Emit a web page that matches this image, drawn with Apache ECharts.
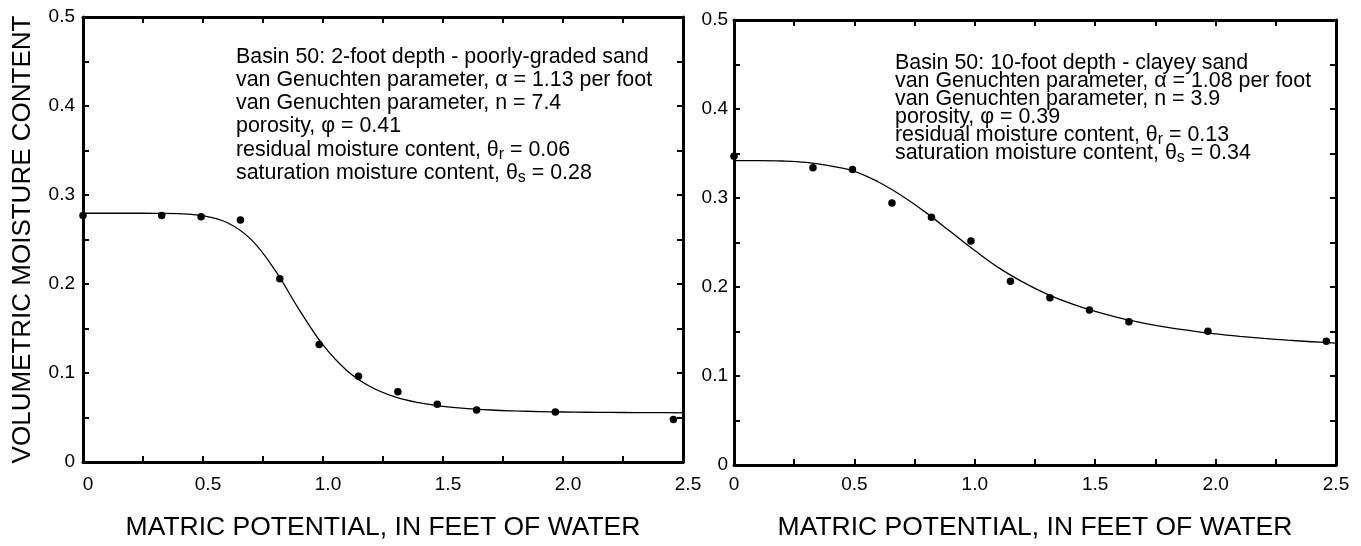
<!DOCTYPE html>
<html>
<head>
<meta charset="utf-8">
<script src="https://cdn.jsdelivr.net/npm/echarts@6/dist/echarts.min.js"></script>
<style>
  html, body { margin: 0; padding: 0; background: #fff; }
  #chart { width: 1361px; height: 546px; }
</style>
</head>
<body>
<div id="chart"></div>
<script>
// Matric potential at which moisture was measured, feet of water
const suction = [0, 0.328, 0.492, 0.656, 0.82, 0.984, 1.148, 1.312, 1.476, 1.64, 1.968, 2.46];

// Measured volumetric moisture content
const moisture2ft  = [0.277, 0.277, 0.2756, 0.272, 0.206, 0.132, 0.0963, 0.0789, 0.065, 0.0585, 0.0563, 0.0478];
const moisture10ft = [0.347, 0.334, 0.332, 0.2944, 0.2784, 0.2517, 0.2066, 0.1878, 0.1742, 0.1609, 0.1502, 0.1391];

// Fitted van Genuchten retention curves, sampled every 0.1 ft
const fitSuction = [0, 0.1, 0.2, 0.3, 0.4, 0.5, 0.6, 0.7, 0.8, 0.9, 1.0, 1.1, 1.2, 1.3, 1.4, 1.5, 1.6, 1.7, 1.8, 1.9, 2.0, 2.1, 2.2, 2.3, 2.4, 2.5];
const fit2ftMoisture = [0.2795, 0.2795, 0.2795, 0.2794, 0.279, 0.2767, 0.2691, 0.2501, 0.2155, 0.1716, 0.1315, 0.1026, 0.0843, 0.0732, 0.0666, 0.0625, 0.0600, 0.0584, 0.0574, 0.0567, 0.0562, 0.0559, 0.0557, 0.0555, 0.0554, 0.0553];
const fit10ftMoisture = [0.342, 0.342, 0.3416, 0.340, 0.3361, 0.330, 0.318, 0.302, 0.283, 0.262, 0.241, 0.2215, 0.2055, 0.192, 0.1812, 0.1725, 0.1653, 0.1595, 0.1547, 0.1508, 0.1474, 0.1446, 0.1422, 0.1402, 0.1385, 0.137];

// Axis tick labels and titles
const xTickLabels = ['0', '0.5', '1.0', '1.5', '2.0', '2.5'];
const yTickLabels = ['0', '0.1', '0.2', '0.3', '0.4', '0.5'];
const yAxisTitle = 'VOLUMETRIC MOISTURE CONTENT';
const xAxisTitle = 'MATRIC POTENTIAL, IN FEET OF WATER';

// Sample descriptions ({sub|..} marks a subscript)
const notes2ft = [
  'Basin 50: 2-foot depth - poorly-graded sand',
  'van Genuchten parameter, \u03B1 = 1.13 per foot',
  'van Genuchten parameter, n = 7.4',
  'porosity, \u03C6 = 0.41',
  'residual moisture content, \u03B8{sub|r} = 0.06',
  'saturation moisture content, \u03B8{sub|s} = 0.28'
];
const notes10ft = [
  'Basin 50: 10-foot depth - clayey sand',
  'van Genuchten parameter, \u03B1 = 1.08 per foot',
  'van Genuchten parameter, n = 3.9',
  'porosity, \u03C6 = 0.39',
  'residual moisture content, \u03B8{sub|r} = 0.13',
  'saturation moisture content, \u03B8{sub|s} = 0.34'
];

const FONT = 'Liberation Sans, Arial, Helvetica, sans-serif';

function pickLabel(labels, step) {
  return function (v) {
    const k = v / step;
    const i = Math.round(k);
    return Math.abs(k - i) < 1e-6 && labels[i] !== undefined ? labels[i] : '';
  };
}

const axisLine = { show: true, onZero: false, lineStyle: { color: '#000', width: 3 } };
const axisTick = { show: true, inside: true, length: 6, lineStyle: { color: '#000', width: 2 } };

function xAxes(gridIndex, labelPad, labelMargin, nameGap) {
  return [
    {
      type: 'value', gridIndex, position: 'bottom', min: 0, max: 2.5, interval: 0.25,
      axisLine, axisTick, splitLine: { show: false },
      axisLabel: {
        show: true, margin: labelMargin, color: '#000', fontSize: 19, fontFamily: FONT,
        padding: [0, 0, 0, labelPad], formatter: pickLabel(xTickLabels, 0.5),
        showMinLabel: true, showMaxLabel: true
      },
      name: xAxisTitle, nameLocation: 'middle', nameGap,
      nameTextStyle: { color: '#000', fontSize: 26.5, fontFamily: FONT }
    },
    {
      type: 'value', gridIndex, position: 'top', min: 0, max: 2.5, interval: 0.25,
      axisLine, axisTick, axisLabel: { show: false }, splitLine: { show: false }
    }
  ];
}

function yAxes(gridIndex, labelMargin, withName) {
  const main = {
    type: 'value', gridIndex, position: 'left', min: 0, max: 0.5, interval: 0.05,
    axisLine, axisTick, splitLine: { show: false },
    axisLabel: {
      show: true, margin: labelMargin, color: '#000', fontSize: 19, fontFamily: FONT,
      formatter: pickLabel(yTickLabels, 0.1), showMinLabel: true, showMaxLabel: true
    }
  };
  if (withName) {
    main.name = yAxisTitle;
    main.nameLocation = 'middle';
    main.nameGap = 47;
    main.nameTextStyle = { color: '#000', fontSize: 26, fontFamily: FONT };
  }
  return [
    main,
    {
      type: 'value', gridIndex, position: 'right', min: 0, max: 0.5, interval: 0.05,
      axisLine, axisTick, axisLabel: { show: false }, splitLine: { show: false }
    }
  ];
}

function pairs(xs, ys) { return xs.map((x, i) => [x, ys[i]]); }

function noteElements(lines, x, y0, step) {
  return lines.map((t, i) => ({
    type: 'text',
    x: x, y: y0 + i * step,
    silent: true,
    style: {
      text: t,
      fill: '#000',
      fontSize: 21.4,
      fontFamily: FONT,
      verticalAlign: 'middle',
      align: 'left',
      rich: {
        sub: { fontSize: 16, fontFamily: FONT, fill: '#000', padding: [9, 0, 0, 0] }
      }
    }
  }));
}

const chart = echarts.init(document.getElementById('chart'), null, { renderer: 'canvas' });

const curveStyle = { color: '#000', width: 1.3 };
const dotStyle = { color: '#000', opacity: 1 };

chart.setOption({
  backgroundColor: '#fff',
  animation: false,
  grid: [
    { left: 83, top: 17, width: 600, height: 450 },
    { left: 734, top: 20, width: 602, height: 450 }
  ],
  xAxis: [].concat(xAxes(0, 10, 13, 52), xAxes(1, 0, 10, 49)),
  yAxis: [].concat(yAxes(0, 8, true), yAxes(1, 6, false)),
  series: [
    {
      type: 'line', xAxisIndex: 0, yAxisIndex: 0,
      data: pairs(fitSuction, fit2ftMoisture),
      showSymbol: false, smooth: 0.4,
      lineStyle: curveStyle, z: 2
    },
    {
      type: 'scatter', xAxisIndex: 0, yAxisIndex: 0,
      data: pairs(suction, moisture2ft),
      symbol: 'circle', symbolSize: 7.5, itemStyle: dotStyle, z: 3
    },
    {
      type: 'line', xAxisIndex: 2, yAxisIndex: 2,
      data: pairs(fitSuction, fit10ftMoisture),
      showSymbol: false, smooth: 0.4,
      lineStyle: curveStyle, z: 2
    },
    {
      type: 'scatter', xAxisIndex: 2, yAxisIndex: 2,
      data: pairs(suction, moisture10ft),
      symbol: 'circle', symbolSize: 7.5, itemStyle: dotStyle, z: 3
    }
  ],
  graphic: [].concat(
    noteElements(notes2ft, 236, 57, 23.2),
    noteElements(notes10ft, 895, 63, 18.1)
  )
});
</script>
</body>
</html>
